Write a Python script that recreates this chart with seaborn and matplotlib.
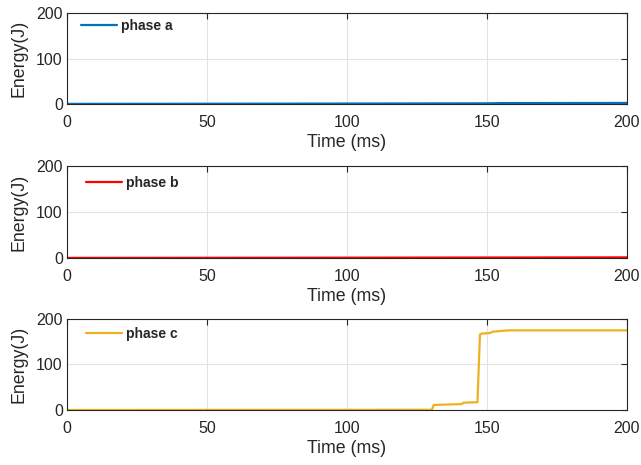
import matplotlib
matplotlib.use("Agg")
import matplotlib.pyplot as plt
import seaborn as sns
import pandas as pd

# Energy traces per phase (time in ms, energy in J)
time_a = [0, 50, 100, 150, 155, 200]
energy_a = [0.3, 0.6, 1.0, 1.5, 2.0, 2.3]

time_b = [0, 50, 100, 150, 200]
energy_b = [0.2, 0.4, 0.7, 1.0, 1.3]

time_c = [0, 130.3, 131, 141, 141.5, 146.6, 147.5, 148.3, 151, 152, 155.5, 158, 200]
energy_c = [0, 0.5, 11, 13, 16, 17, 166, 168, 169, 172, 174, 175, 175]

phase_labels = ["phase a", "phase b", "phase c"]
phase_colors = ["#0072BD", "#FF0000", "#EDB120"]
x_ticks = [0, 50, 100, 150, 200]
y_ticks = [0, 100, 200]

sns.set_theme(style="white")
plt.rcParams["font.family"] = ["Liberation Sans", "DejaVu Sans"]

fig = plt.figure(figsize=(6.41, 4.65), dpi=100)
rects = [
    [0.1045, 0.7763, 0.8736, 0.1957],
    [0.1045, 0.4452, 0.8736, 0.1978],
    [0.1045, 0.1183, 0.8736, 0.1957],
]
legend_anchors = [(0.015, 1.0), (0.024, 0.956), (0.024, 0.978)]
series = [(time_a, energy_a), (time_b, energy_b), (time_c, energy_c)]

for rect, (t, e), lab, col, anchor in zip(rects, series, phase_labels,
                                          phase_colors, legend_anchors):
    ax = fig.add_axes(rect)
    df = pd.DataFrame({"Time": t, "Energy": e})
    sns.lineplot(data=df, x="Time", y="Energy", color=col, linewidth=1.6,
                 label=lab, ax=ax)
    ax.set_xlim(0, 200)
    ax.set_ylim(0, 200)
    ax.set_xticks(x_ticks)
    ax.set_yticks(y_ticks)
    ax.grid(True, color="#e3e3e3", linewidth=0.8)
    ax.set_axisbelow(True)
    ax.tick_params(direction="in", top=True, right=True, length=4,
                   width=0.8, color="#262626", labelsize=11.5,
                   labelcolor="#262626")
    ax.tick_params(axis="x", pad=8)
    ax.tick_params(axis="y", pad=3)
    for s in ax.spines.values():
        s.set_color("#262626")
        s.set_linewidth(0.8)
    ax.set_xlabel("Time (ms)", fontsize=12.8, color="#262626", labelpad=3)
    ax.set_ylabel("Energy(J)", fontsize=12.8, color="#262626", labelpad=6)
    ax.legend(loc="upper left", bbox_to_anchor=anchor, borderaxespad=0,
              frameon=False, handlelength=2.6, handletextpad=0.3,
              prop={"weight": "bold", "size": 10})

fig.savefig("out.png", dpi=100)
